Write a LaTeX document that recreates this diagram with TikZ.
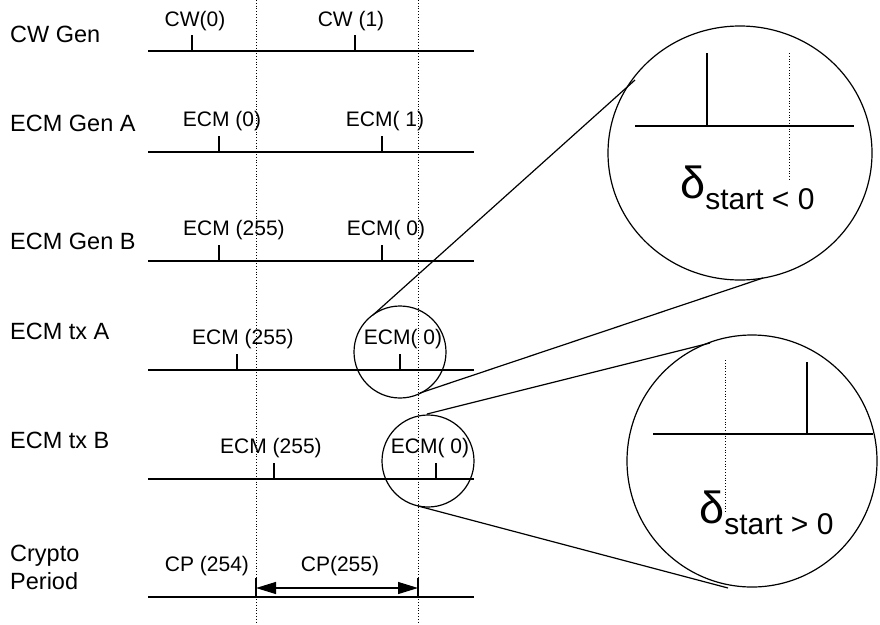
\documentclass[tikz,border=0pt]{standalone}
\usepackage{fontspec}
\setmainfont{Liberation Sans}
\usetikzlibrary{arrows.meta}
\tikzset{
  rowlabel/.style={anchor=base west, inner sep=0pt, font=\fontsize{23.5}{27}\selectfont},
  evlabel/.style={anchor=base, inner sep=0pt, font=\fontsize{21}{24}\selectfont},
  timeline/.style={line width=1.3pt},
  evtick/.style={line width=1.2pt},
  bound/.style={dotted, line width=0.8pt},
  lens/.style={line width=1.2pt},
}
\newcommand{\deltalabel}[1]{{\fontsize{45}{45}\selectfont δ}\raisebox{-11pt}{\fontsize{30}{30}\selectfont start #1}}

\begin{document}
\begin{tikzpicture}[x=1pt, y=-1pt]
  \useasboundingbox (0,0) rectangle (880,624);

  % Row labels
  \node[rowlabel] (lcw)   at (10,42)  {CW Gen};
  \node[rowlabel] (lgena) at (10,131) {ECM Gen A};
  \node[rowlabel] (lgenb) at (10,249) {ECM Gen B};
  \node[rowlabel] (ltxa)  at (10,339) {ECM tx A};
  \node[rowlabel] (ltxb)  at (10,448) {ECM tx B};
  \node[rowlabel] (lcp)   at (10,561) {Crypto};
  \node[rowlabel] (lcp2)  at (10,589) {Period};

  % Crypto period boundaries
  \draw[bound] (256,0) -- (256,624);
  \draw[bound] (418,0) -- (418,624);

  % Time lines
  \foreach \y in {51,152,261,370,479,597}
    \draw[timeline] (148,\y) -- (474,\y);

  % CW Gen
  \draw[evtick] (192,51) -- (192,35);
  \draw[evtick] (355,51) -- (355,35);
  \node[evlabel] (cw0) at (195,26) {CW(0)};
  \node[evlabel] (cw1) at (351,26) {CW (1)};

  % ECM Gen A
  \draw[evtick] (219,152) -- (219,136);
  \draw[evtick] (382,152) -- (382,136);
  \node[evlabel] (gena0) at (222,126) {ECM (0)};
  \node[evlabel] (gena1) at (385,126) {ECM( 1)};

  % ECM Gen B
  \draw[evtick] (219,261) -- (219,245);
  \draw[evtick] (382,261) -- (382,245);
  \node[evlabel] (genb0) at (234,235) {ECM (255)};
  \node[evlabel] (genb1) at (386,235) {ECM( 0)};

  % ECM tx A
  \draw[evtick] (237,370) -- (237,354);
  \draw[evtick] (400,370) -- (400,354);
  \node[evlabel] (txa0) at (243,344) {ECM (255)};
  \node[evlabel] (txa1) at (403,344) {ECM( 0)};

  % ECM tx B
  \draw[evtick] (274,479) -- (274,463);
  \draw[evtick] (436,479) -- (436,463);
  \node[evlabel] (txb0) at (271,453) {ECM (255)};
  \node[evlabel] (txb1) at (430,453) {ECM( 0)};

  % Crypto Period
  \node[evlabel] (cp0) at (207,571) {CP (254)};
  \node[evlabel] (cp1) at (340,571) {CP(255)};
  \coordinate (cpl) at (256,588);
  \coordinate (cpr) at (418,588);
  \draw[evtick] (256,578) -- (256,597);
  \draw[evtick] (418,578) -- (418,597);
  \draw[line width=1.2pt, {Triangle[length=20pt,width=12pt]}-{Triangle[length=20pt,width=12pt]}] (cpl) -- (cpr);

  % Zoom circles
  \draw[lens] (400,352) circle (46);
  \draw[lens] (428,461) circle (46);
  \draw[lens] (740,153) ellipse [x radius=132, y radius=127];
  \draw[lens] (752,461) ellipse [x radius=125, y radius=126];

  % Lens connectors
  \coordinate (sa1) at (373,315); \coordinate (ba1) at (635,80);
  \coordinate (sa2) at (420,393); \coordinate (ba2) at (763,278);
  \coordinate (sb1) at (427,414); \coordinate (bb1) at (710,343);
  \coordinate (sb2) at (418,506); \coordinate (bb2) at (728,588);
  \draw[lens] (sa1) -- (ba1);
  \draw[lens] (sa2) -- (ba2);
  \draw[lens] (sb1) -- (bb1);
  \draw[lens] (sb2) -- (bb2);

  % Magnified view A
  \draw[timeline] (635,126) -- (854,126);
  \draw[evtick] (707,126) -- (707,53);
  \draw[bound] (789,53) -- (789,180);
  \node[anchor=base west, inner sep=0pt] (da) at (680,198) {\deltalabel{< 0}};

  % Magnified view B
  \draw[timeline] (653,434) -- (873,434);
  \draw[evtick] (807,434) -- (807,362);
  \draw[bound] (725,360) -- (725,513);
  \node[anchor=base west, inner sep=0pt] (db) at (699,523) {\deltalabel{> 0}};
\end{tikzpicture}
\end{document}
